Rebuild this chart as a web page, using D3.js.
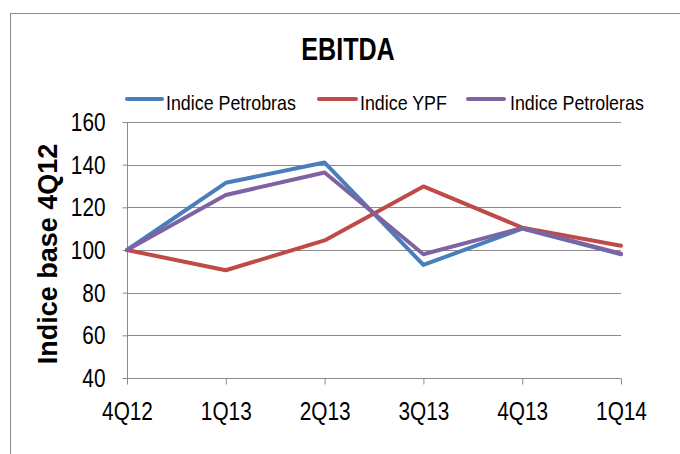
<!DOCTYPE html>
<html><head><meta charset="utf-8">
<script src="https://cdn.jsdelivr.net/npm/d3@7"></script>
<style>
body{margin:0;background:#fff;}
svg{display:block;}
</style></head>
<body>
<svg id="c" width="680" height="454"></svg>
<script>
const categories = ["4Q12","1Q13","2Q13","3Q13","4Q13","1Q14"];
const petrobras = [100, 131.5, 141, 93, 110, 98];
const ypf = [100, 90.5, 104.5, 129.8, 110.5, 102];
const petroleras = [100, 125.8, 136.3, 98, 110.3, 98.3];
const seriesNames = ["Indice Petrobras","Indice YPF","Indice Petroleras"];
const seriesColors = ["#4a7ebb","#be4b48","#7e62a1"];
const yTicks = [40,60,80,100,120,140,160];

const font = "'Liberation Sans',Arial,sans-serif";
const SX = 0.8;
const svg = d3.select("#c");

// frame
svg.append("rect").attr("x",10.5).attr("y",13.5).attr("width",700).attr("height",470)
  .attr("fill","#fff").attr("stroke","#8c8c8c").attr("stroke-width",1);

const x = d3.scalePoint().domain(categories).range([127,621]);
const y = d3.scaleLinear().domain([40,160]).range([378,122]);

// gridlines
svg.append("g").selectAll("line").data(yTicks.filter(d=>d>40)).join("line")
  .attr("x1",127).attr("x2",621).attr("y1",d=>Math.round(y(d))+0.5).attr("y2",d=>Math.round(y(d))+0.5)
  .attr("stroke","#8a8a8a").attr("stroke-width",1);

// y axis
const ya = svg.append("g").attr("transform","translate(127.5,0)")
  .call(d3.axisLeft(y).tickValues(yTicks).tickSize(5).tickPadding(17));
ya.select(".domain").attr("stroke","#8a8a8a").attr("d","M0,"+y(160)+"V"+y(40));
ya.selectAll(".tick line").attr("stroke","#8a8a8a");
ya.selectAll("text").attr("font-family",font).attr("font-size",26).attr("fill","#000")
  .attr("x",-22/SX).attr("transform",`scale(${SX},1)`);

// x axis
const xa = svg.append("g").attr("transform","translate(0,378.5)")
  .call(d3.axisBottom(x).tickSize(6).tickPadding(17));
xa.select(".domain").attr("stroke","#8a8a8a").attr("d","M127,0H621");
xa.selectAll(".tick line").attr("stroke","#8a8a8a");
xa.selectAll("text").attr("font-family",font).attr("font-size",26).attr("fill","#000")
  .attr("transform",`scale(${SX},1)`);

// lines
const allSeries = [petrobras, ypf, petroleras];
const line = d3.line().x((d,i)=>x(categories[i])).y(d=>y(d));
svg.append("g").selectAll("path").data(allSeries).join("path")
  .attr("d",line).attr("fill","none")
  .attr("stroke",(d,i)=>seriesColors[i]).attr("stroke-width",4)
  .attr("stroke-linejoin","round").attr("stroke-linecap","round");

// title
svg.append("text").attr("transform",`translate(348,60) scale(0.81,1)`).attr("text-anchor","middle")
  .attr("font-family",font).attr("font-weight","bold").attr("font-size",31).text("EBITDA");

// y title
svg.append("text").attr("transform","translate(57,254) rotate(-90)").attr("text-anchor","middle")
  .attr("font-family",font).attr("font-weight","bold").attr("font-size",27)
  .text("Indice base 4Q12");

// legend
const legLine = [[126,163],[318,357],[467,505]];
const legText = [166,360,510];
const lg = svg.append("g").selectAll("g").data(seriesNames).join("g");
lg.append("line").attr("x1",(d,i)=>legLine[i][0]+1).attr("x2",(d,i)=>legLine[i][1]-1)
  .attr("y1",99).attr("y2",99)
  .attr("stroke",(d,i)=>seriesColors[i]).attr("stroke-width",4).attr("stroke-linecap","round");
lg.append("text").attr("transform",(d,i)=>`translate(${legText[i]},110) scale(0.85,1)`)
  .attr("font-family",font).attr("font-size",21).text(d=>d);
</script>
</body></html>
